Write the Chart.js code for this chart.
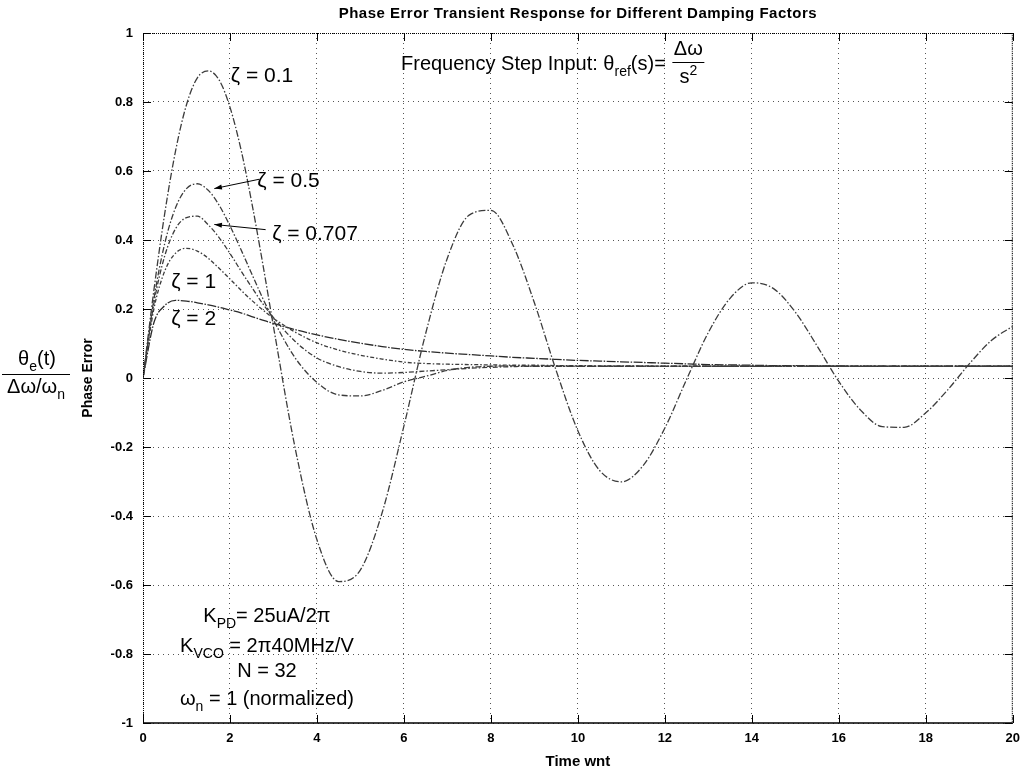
<!DOCTYPE html>
<html>
<head>
<meta charset="utf-8">
<script src="https://cdn.jsdelivr.net/npm/chart.js@4.4.1/dist/chart.umd.min.js"></script>
<style>
  html, body { margin: 0; padding: 0; background: #fff; }
  #wrap { width: 1028px; height: 775px; }
</style>
</head>
<body>
<div id="wrap"><canvas id="phaseChart" width="1028" height="775"></canvas></div>
<script>
// time axis (w_n * t), finer near the start
const time = [0, 0.25, 0.5, 0.75, 1, 1.25, 1.5, 1.75, 2, 2.25, 2.5, 2.75, 3,
    3.5, 4, 4.5, 5, 5.5, 6, 6.5, 7, 7.5, 8, 8.5, 9, 9.5, 10, 10.5, 11, 11.5, 12,
    12.5, 13, 13.5, 14, 14.5, 15, 15.5, 16, 16.5, 17, 17.5, 18, 18.5, 19, 19.5, 20];

// phase error values
const zeta01 = [0, 0.254, 0.477, 0.659, 0.792, 0.870, 0.890, 0.864, 0.785, 0.664, 0.509, 0.334, 0.149,
    -0.204, -0.469, -0.590, -0.556, -0.390, -0.139, 0.129, 0.348, 0.472, 0.486, 0.387, 0.218, 0.022,
    -0.153, -0.268, -0.301, -0.254, -0.145, -0.004, 0.132, 0.231, 0.276, 0.259, 0.191, 0.093, -0.010,
    -0.093, -0.141, -0.143, -0.101, -0.035, 0.041, 0.108, 0.150];
const zeta05 = [0, 0.228, 0.390, 0.494, 0.549, 0.563, 0.544, 0.501, 0.441, 0.373, 0.302, 0.232, 0.168,
    0.058, -0.013, -0.049, -0.052, -0.036, -0.011, 0.005, 0.022, 0.031, 0.034, 0.035, 0.034, 0.034,
    0.034, 0.034, 0.034, 0.034, 0.034, 0.034, 0.034, 0.034, 0.034, 0.034, 0.034, 0.034, 0.034,
    0.034, 0.034, 0.034, 0.034, 0.034, 0.034, 0.034, 0.034];
const zeta0707 = [0, 0.216, 0.354, 0.433, 0.465, 0.469, 0.444, 0.407, 0.361, 0.311, 0.263, 0.216, 0.175,
    0.106, 0.058, 0.033, 0.019, 0.014, 0.016, 0.020, 0.024, 0.028, 0.031, 0.033, 0.034, 0.034,
    0.034, 0.034, 0.034, 0.034, 0.034, 0.034, 0.034, 0.034, 0.034, 0.034, 0.034, 0.034, 0.034,
    0.034, 0.034, 0.034, 0.034, 0.034, 0.034, 0.034, 0.034];
const zeta1 = [0, 0.200, 0.310, 0.362, 0.376, 0.368, 0.347, 0.318, 0.287, 0.255, 0.225, 0.198, 0.173,
    0.133, 0.102, 0.081, 0.066, 0.055, 0.046, 0.042, 0.040, 0.039, 0.038, 0.037, 0.037, 0.036,
    0.036, 0.035, 0.035, 0.035, 0.034, 0.034, 0.034, 0.034, 0.034, 0.034, 0.034, 0.034, 0.034,
    0.034, 0.034, 0.034, 0.034, 0.034, 0.034, 0.034, 0.034];
const zeta2 = [0, 0.160, 0.210, 0.225, 0.223, 0.218, 0.212, 0.205, 0.197, 0.189, 0.178, 0.168, 0.158,
    0.140, 0.125, 0.112, 0.101, 0.091, 0.083, 0.077, 0.072, 0.068, 0.064, 0.060, 0.057, 0.054,
    0.051, 0.049, 0.047, 0.045, 0.043, 0.041, 0.039, 0.038, 0.037, 0.036, 0.036, 0.035, 0.035,
    0.034, 0.034, 0.034, 0.034, 0.034, 0.034, 0.034, 0.034];

const xTicks = [0, 2, 4, 6, 8, 10, 12, 14, 16, 18, 20];
const yTicks = [-1, -0.8, -0.6, -0.4, -0.2, 0, 0.2, 0.4, 0.6, 0.8, 1];

const SANS = '"Liberation Sans", Arial, Helvetica, sans-serif';

function series(vals, dash, color) {
    return {
        data: time.map((t, i) => ({ x: t, y: vals[i] })),
        borderColor: color,
        borderWidth: 1.3,
        borderDash: dash,
        pointRadius: 0,
        cubicInterpolationMode: "monotone",
        fill: false,
    };
}

// text with subscripts / superscripts
function rich(ctx, parts, x, y, size, align) {
    let w = 0;
    parts.forEach(p => {
        ctx.font = (p.sub || p.sup ? Math.round(size * 0.68) : size) + "px " + SANS;
        p.w = ctx.measureText(p.t).width;
        w += p.w;
    });
    let cx = align === "center" ? x - w / 2 : x;
    parts.forEach(p => {
        ctx.font = (p.sub || p.sup ? Math.round(size * 0.68) : size) + "px " + SANS;
        let dy = p.sub ? size * 0.3 : (p.sup ? -size * 0.42 : 0);
        ctx.fillText(p.t, cx, y + dy);
        cx += p.w;
    });
    return w;
}

function arrow(ctx, x1, y1, x2, y2) {
    ctx.beginPath();
    ctx.moveTo(x1, y1);
    ctx.lineTo(x2, y2);
    ctx.stroke();
    const ang = Math.atan2(y2 - y1, x2 - x1);
    ctx.beginPath();
    ctx.moveTo(x2, y2);
    ctx.lineTo(x2 - 8 * Math.cos(ang - 0.32), y2 - 8 * Math.sin(ang - 0.32));
    ctx.lineTo(x2 - 8 * Math.cos(ang + 0.32), y2 - 8 * Math.sin(ang + 0.32));
    ctx.closePath();
    ctx.fill();
}

const overlay = {
    id: "overlay",
    afterDraw(chart) {
        const { ctx, chartArea: a, scales: { x, y } } = chart;
        ctx.save();
        ctx.fillStyle = "#000";
        ctx.strokeStyle = "#000";

        // axes box: dotted top/left/right, solid bottom
        ctx.lineWidth = 1;
        ctx.setLineDash([1, 1]);
        ctx.beginPath();
        ctx.moveTo(a.left + 0.5, a.bottom);
        ctx.lineTo(a.left + 0.5, a.top + 0.5);
        ctx.lineTo(a.right - 0.5, a.top + 0.5);
        ctx.lineTo(a.right - 0.5, a.bottom);
        ctx.stroke();
        ctx.setLineDash([]);
        ctx.lineWidth = 1.6;
        ctx.beginPath();
        ctx.moveTo(a.left, a.bottom);
        ctx.lineTo(a.right, a.bottom);
        ctx.stroke();

        // inward tick marks on all sides
        ctx.lineWidth = 1;
        ctx.beginPath();
        xTicks.forEach(v => {
            const px = Math.round(x.getPixelForValue(v)) + 0.5;
            ctx.moveTo(px, a.bottom); ctx.lineTo(px, a.bottom - 8);
            ctx.moveTo(px, a.top); ctx.lineTo(px, a.top + 8);
        });
        yTicks.forEach(v => {
            const py = Math.round(y.getPixelForValue(v)) + 0.5;
            ctx.moveTo(a.left, py); ctx.lineTo(a.left + 8, py);
            ctx.moveTo(a.right, py); ctx.lineTo(a.right - 8, py);
        });
        ctx.stroke();

        // title and axis labels
        const midX = (a.left + a.right) / 2;
        ctx.textAlign = "center";
        ctx.textBaseline = "middle";
        ctx.font = "bold 15px " + SANS;
        ctx.letterSpacing = "0.5px";
        ctx.fillText("Phase Error Transient Response for Different Damping Factors", midX, 14);
        ctx.letterSpacing = "0px";
        ctx.fillText("Time wnt", midX, 762);
        ctx.save();
        ctx.translate(88, (a.top + a.bottom) / 2);
        ctx.rotate(-Math.PI / 2);
        ctx.font = "bold 14px " + SANS;
        ctx.fillText("Phase Error", 0, 0);
        ctx.restore();

        ctx.textBaseline = "alphabetic";
        ctx.textAlign = "left";

        // big normalised label at the left
        rich(ctx, [{ t: "θ" }, { t: "e", sub: true }, { t: "(t)" }], 37, 365, 20, "center");
        ctx.lineWidth = 1;
        ctx.beginPath();
        ctx.moveTo(2, 374.5);
        ctx.lineTo(70, 374.5);
        ctx.stroke();
        rich(ctx, [{ t: "Δω/ω" }, { t: "n", sub: true }], 36, 393, 20, "center");

        // damping labels
        const px = v => x.getPixelForValue(v);
        const py = v => y.getPixelForValue(v);
        ctx.font = "21px " + SANS;
        ctx.fillText("ζ = 0.1", px(2.02), py(0.857));
        ctx.fillText("ζ = 0.5", px(2.63), py(0.554));
        ctx.fillText("ζ = 0.707", px(2.97), py(0.401));
        ctx.fillText("ζ = 1", px(0.65), py(0.261));
        ctx.fillText("ζ = 2", px(0.65), py(0.155));
        ctx.lineWidth = 1;
        arrow(ctx, px(2.67), py(0.576), px(1.64), py(0.549));
        arrow(ctx, px(2.82), py(0.430), px(1.64), py(0.445));

        // input description
        const w = rich(ctx, [{ t: "Frequency Step Input: θ" }, { t: "ref", sub: true }, { t: "(s)= " }], 401, 70, 20, "left");
        const fx = 401 + w + 17;
        ctx.font = "20px " + SANS;
        ctx.textAlign = "center";
        ctx.fillText("Δω", fx, 55);
        ctx.beginPath();
        ctx.moveTo(fx - 16, 62.5);
        ctx.lineTo(fx + 16, 62.5);
        ctx.stroke();
        ctx.textAlign = "left";
        rich(ctx, [{ t: "s" }, { t: "2", sup: true }], fx, 83, 20, "center");

        // loop parameters
        const cx = px(2.85);
        rich(ctx, [{ t: "K" }, { t: "PD", sub: true }, { t: "= 25uA/2π" }], cx, 622, 20, "center");
        rich(ctx, [{ t: "K" }, { t: "VCO", sub: true }, { t: " = 2π40MHz/V" }], cx, 652, 20, "center");
        rich(ctx, [{ t: "N = 32" }], cx, 677, 20, "center");
        rich(ctx, [{ t: "ω" }, { t: "n", sub: true }, { t: " = 1 (normalized)" }], cx, 705, 20, "center");

        ctx.restore();
    },
};

const ctx = document.getElementById("phaseChart");
new Chart(ctx, {
    type: "line",
    data: {
        datasets: [
            series(zeta01, [7, 2, 1.5, 2], "#3c3c3c"),
            series(zeta05, [6, 2, 1.5, 2], "#3c3c3c"),
            series(zeta0707, [5, 2, 1.5, 2], "#3c3c3c"),
            series(zeta1, [4, 2, 1.5, 2], "#3c3c3c"),
            series(zeta2, [9, 1.5, 1.5, 1.5], "#2a2a2a"),
        ],
    },
    options: {
        responsive: false,
        animation: false,
        layout: { padding: { top: 33, right: 9, left: 0, bottom: 0 } },
        plugins: { legend: { display: false }, tooltip: { enabled: false }, title: { display: false } },
        scales: {
            x: {
                type: "linear",
                min: 0,
                max: 20,
                afterBuildTicks: s => { s.ticks = xTicks.map(v => ({ value: v })); },
                afterFit: s => { s.height = 52; },
                grid: { color: "#555", lineWidth: 1, drawTicks: false },
                border: { display: false, dash: [1, 4] },
                ticks: { color: "#000", padding: 8, font: { family: SANS, size: 13, weight: "bold" }, maxRotation: 0 },
            },
            y: {
                min: -1,
                max: 1,
                afterBuildTicks: s => { s.ticks = yTicks.map(v => ({ value: v })); },
                afterFit: s => { s.width = 143; },
                grid: { color: "#555", lineWidth: 1, drawTicks: false },
                border: { display: false, dash: [1, 4] },
                ticks: {
                    color: "#000",
                    padding: 10,
                    font: { family: SANS, size: 13, weight: "bold" },
                    callback: v => String(Number(v.toFixed(1))),
                },
            },
        },
    },
    plugins: [overlay],
});
</script>
</body>
</html>
